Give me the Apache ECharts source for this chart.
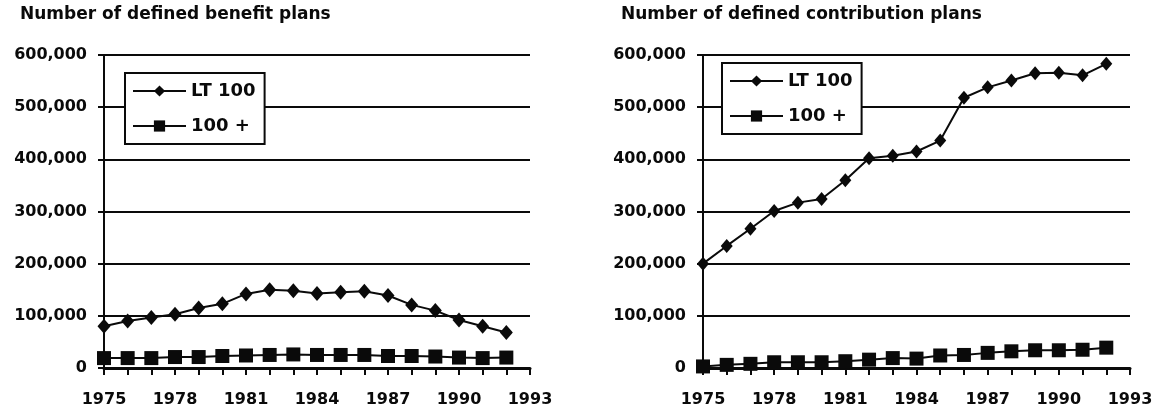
<!DOCTYPE html>
<html>
<head>
<meta charset="utf-8">
<style>
  html, body { margin: 0; padding: 0; background: #fff; }
  #chart { width: 1162px; height: 411px; }
</style>
<script src="https://cdn.jsdelivr.net/npm/echarts@6/dist/echarts.min.js"></script>
</head>
<body>
<div id="chart"></div>
<script>
// ---- data ----
const years = [1975,1976,1977,1978,1979,1980,1981,1982,1983,1984,1985,1986,1987,1988,1989,1990,1991,1992];
const dbLT100 = [80000,90000,97000,103000,115000,123000,142000,150000,148000,143000,145000,147000,139000,121000,110000,92000,80000,68000];
const db100plus = [19000,19000,19000,21000,21000,23000,24000,25000,26000,25000,25000,25000,23000,23000,22000,20000,19000,20000];
const dcLT100 = [200000,234000,267000,301000,317000,324000,360000,402000,407000,415000,436000,518000,538000,551000,565000,566000,561000,583000];
const dc100plus = [3000,6000,8000,11000,11000,11000,13000,16000,19000,18000,24000,25000,29000,32000,34000,34000,35000,39000];
const titles = ['Number of defined benefit plans', 'Number of defined contribution plans'];
const seriesNames = ['LT 100', '100 +'];
const yTicks = [0, 100000, 200000, 300000, 400000, 500000, 600000];
const xLabelYears = [1975, 1978, 1981, 1984, 1987, 1990, 1993];

// ---- helpers ----
const FONT = 'DejaVu Sans';
const INK = '#0a0a0a';
function pairs(vals) { return years.map((y, i) => [y, vals[i]]); }
function fmt(v) { return String(v).replace(/\B(?=(\d{3})+(?!\d))/g, ','); }

const grids = [
  { left: 104, top: 55, width: 426, height: 313 },
  { left: 703, top: 55, width: 427, height: 313 }
];

const xAxes = grids.map((g, i) => ({
  type: 'value', gridIndex: i,
  min: years[0], max: 1993, interval: 1,
  axisLine: { show: true, onZero: false, lineStyle: { color: INK, width: 3 } },
  axisTick: { show: true, length: 7, lineStyle: { color: INK, width: 2 } },
  splitLine: { show: false },
  axisLabel: {
    margin: 24, color: INK, fontFamily: FONT, fontWeight: 'bold', fontSize: 16,
    formatter: v => xLabelYears.indexOf(v) >= 0 ? String(v) : ''
  }
}));

const yAxes = grids.map((g, i) => ({
  type: 'value', gridIndex: i,
  min: yTicks[0], max: yTicks[yTicks.length - 1], interval: yTicks[1] - yTicks[0],
  axisLine: { show: true, lineStyle: { color: INK, width: 2 } },
  axisTick: { show: true, length: 6, lineStyle: { color: INK, width: 2 } },
  splitLine: { show: true, lineStyle: { color: INK, width: 2 } },
  axisLabel: { margin: 17, color: INK, fontFamily: FONT, fontWeight: 'bold', fontSize: 16, formatter: fmt }
}));

function lineSeries(name, vals, idx, symbol, size) {
  return {
    name: name, type: 'line', xAxisIndex: idx, yAxisIndex: idx,
    data: pairs(vals), symbol: symbol, symbolSize: size,
    lineStyle: { color: INK, width: 2 },
    itemStyle: { color: INK },
    animation: false, z: 5
  };
}

const legendBase = {
  orient: 'vertical', itemWidth: 53, itemHeight: 14, itemGap: 17,
  borderColor: INK, borderWidth: 2, backgroundColor: '#fff',
  padding: [9, 9, 9, 7], selectedMode: false,
  textStyle: { color: INK, fontFamily: FONT, fontWeight: 'bold', fontSize: 18, lineHeight: 18 },
  data: seriesNames
};

const option = {
  backgroundColor: '#fff',
  animation: false,
  title: [
    { text: titles[0], left: 20, top: 6, padding: 0, textStyle: { color: INK, fontFamily: FONT, fontWeight: 'bold', fontSize: 17 } },
    { text: titles[1], left: 621, top: 6, padding: 0, textStyle: { color: INK, fontFamily: FONT, fontWeight: 'bold', fontSize: 17 } }
  ],
  legend: [
    Object.assign({}, legendBase, { left: 125, top: 73 }),
    Object.assign({}, legendBase, { left: 722, top: 63 })
  ],
  grid: grids,
  xAxis: xAxes,
  yAxis: yAxes,
  series: [
    lineSeries(seriesNames[0], dbLT100, 0, 'diamond', [13, 15]),
    lineSeries(seriesNames[1], db100plus, 0, 'rect', 14),
    lineSeries(seriesNames[0], dcLT100, 1, 'diamond', [12, 14]),
    lineSeries(seriesNames[1], dc100plus, 1, 'rect', 14)
  ]
};

const chart = echarts.init(document.getElementById('chart'), null, { renderer: 'canvas' });
chart.setOption(option);
</script>
</body>
</html>
